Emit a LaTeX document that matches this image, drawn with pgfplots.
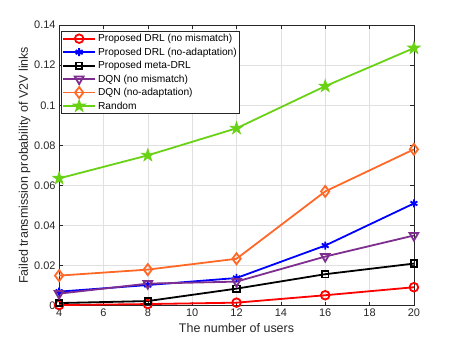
\documentclass[border=0pt]{standalone}
\usepackage{pgfplots}
\pgfplotsset{compat=1.18}
\usepackage{fontspec}
\setmainfont{Liberation Sans}
\definecolor{mpurple}{rgb}{0.49,0.18,0.56}
\definecolor{morange}{RGB}{255,105,40}
\definecolor{mgreen}{RGB}{105,210,20}
\definecolor{axgray}{rgb}{0.15,0.15,0.15}
\pgfdeclareplotmark{pentagram}{%
  \pgfpathmoveto{\pgfqpointpolar{90}{\pgfplotmarksize}}%
  \pgfpathlineto{\pgfqpointpolar{126}{0.382\pgfplotmarksize}}%
  \pgfpathlineto{\pgfqpointpolar{162}{\pgfplotmarksize}}%
  \pgfpathlineto{\pgfqpointpolar{198}{0.382\pgfplotmarksize}}%
  \pgfpathlineto{\pgfqpointpolar{234}{\pgfplotmarksize}}%
  \pgfpathlineto{\pgfqpointpolar{270}{0.382\pgfplotmarksize}}%
  \pgfpathlineto{\pgfqpointpolar{306}{\pgfplotmarksize}}%
  \pgfpathlineto{\pgfqpointpolar{342}{0.382\pgfplotmarksize}}%
  \pgfpathlineto{\pgfqpointpolar{18}{\pgfplotmarksize}}%
  \pgfpathlineto{\pgfqpointpolar{54}{0.382\pgfplotmarksize}}%
  \pgfpathclose
  \pgfusepathqfillstroke
}
\begin{document}
\begin{tikzpicture}
\begin{axis}[
  scale only axis,
  width=354bp, height=280bp,
  xmin=4, xmax=20, ymin=0, ymax=0.14,
  xtick={4,6,...,20},
  ytick={0,0.02,0.04,0.06,0.08,0.1,0.12,0.14},
  yticklabels={0,0.02,0.04,0.06,0.08,0.1,0.12,0.14},
  /pgf/number format/assume math mode=true,
  ticklabel style={font=\fontsize{11}{12}\selectfont, text=axgray},
  label style={font=\fontsize{12.5}{14}\selectfont, text=axgray},
  xlabel={The number of users},
  ylabel={Failed transmission probability of V2V links},
  ylabel shift=-3bp,
  grid=major,
  major grid style={line width=0.5bp, draw=black!12},
  axis line style={draw=axgray, line width=0.6bp},
  tick style={draw=axgray, line width=0.6bp},
  major tick length=3.5bp,
  every axis plot/.append style={line width=1.8bp},
  legend cell align=left,
  legend style={at={(0.005,0.979)}, anchor=north west,
    font=\fontsize{10.2}{11.5}\selectfont, draw=axgray, line width=0.6bp,
    inner sep=1bp, row sep=0.6bp, text=black},
  legend image code/.code={%
    \draw[mark repeat=2,mark phase=2] plot coordinates {(0bp,0bp)(16bp,0bp)(32bp,0bp)};},
]
\addplot[color=red, mark=o, mark size=4.3bp] coordinates {(4,0.0003)(8,0.0008)(12,0.0015)(16,0.0052)(20,0.0092)};
\addlegendentry{Proposed DRL (no mismatch)}
\addplot[color=blue, mark=asterisk, mark size=4bp] coordinates {(4,0.007)(8,0.0103)(12,0.0138)(16,0.030)(20,0.051)};
\addlegendentry{Proposed DRL (no-adaptation)}
\addplot[color=black, mark=square, mark size=3.2bp] coordinates {(4,0.0013)(8,0.0023)(12,0.0085)(16,0.0157)(20,0.021)};
\addlegendentry{Proposed meta-DRL}
\addplot[color=mpurple, mark=triangle, mark size=5bp, mark options={rotate=180}] coordinates {(4,0.006)(8,0.011)(12,0.012)(16,0.0245)(20,0.035)};
\addlegendentry{DQN (no mismatch)}
\addplot[color=morange, mark=diamond, mark size=5.5bp] coordinates {(4,0.015)(8,0.018)(12,0.0234)(16,0.057)(20,0.078)};
\addlegendentry{DQN (no-adaptation)}
\addplot[color=mgreen, mark=pentagram, mark size=6.5bp, mark options={fill=mgreen, line width=0.8bp}] coordinates {(4,0.0635)(8,0.075)(12,0.0885)(16,0.1095)(20,0.1285)};
\addlegendentry{Random}
\end{axis}
\path ([shift={(-59bp,-37bp)}]current axis.south west) rectangle ([shift={(43bp,25bp)}]current axis.north east);
\end{tikzpicture}
\end{document}
